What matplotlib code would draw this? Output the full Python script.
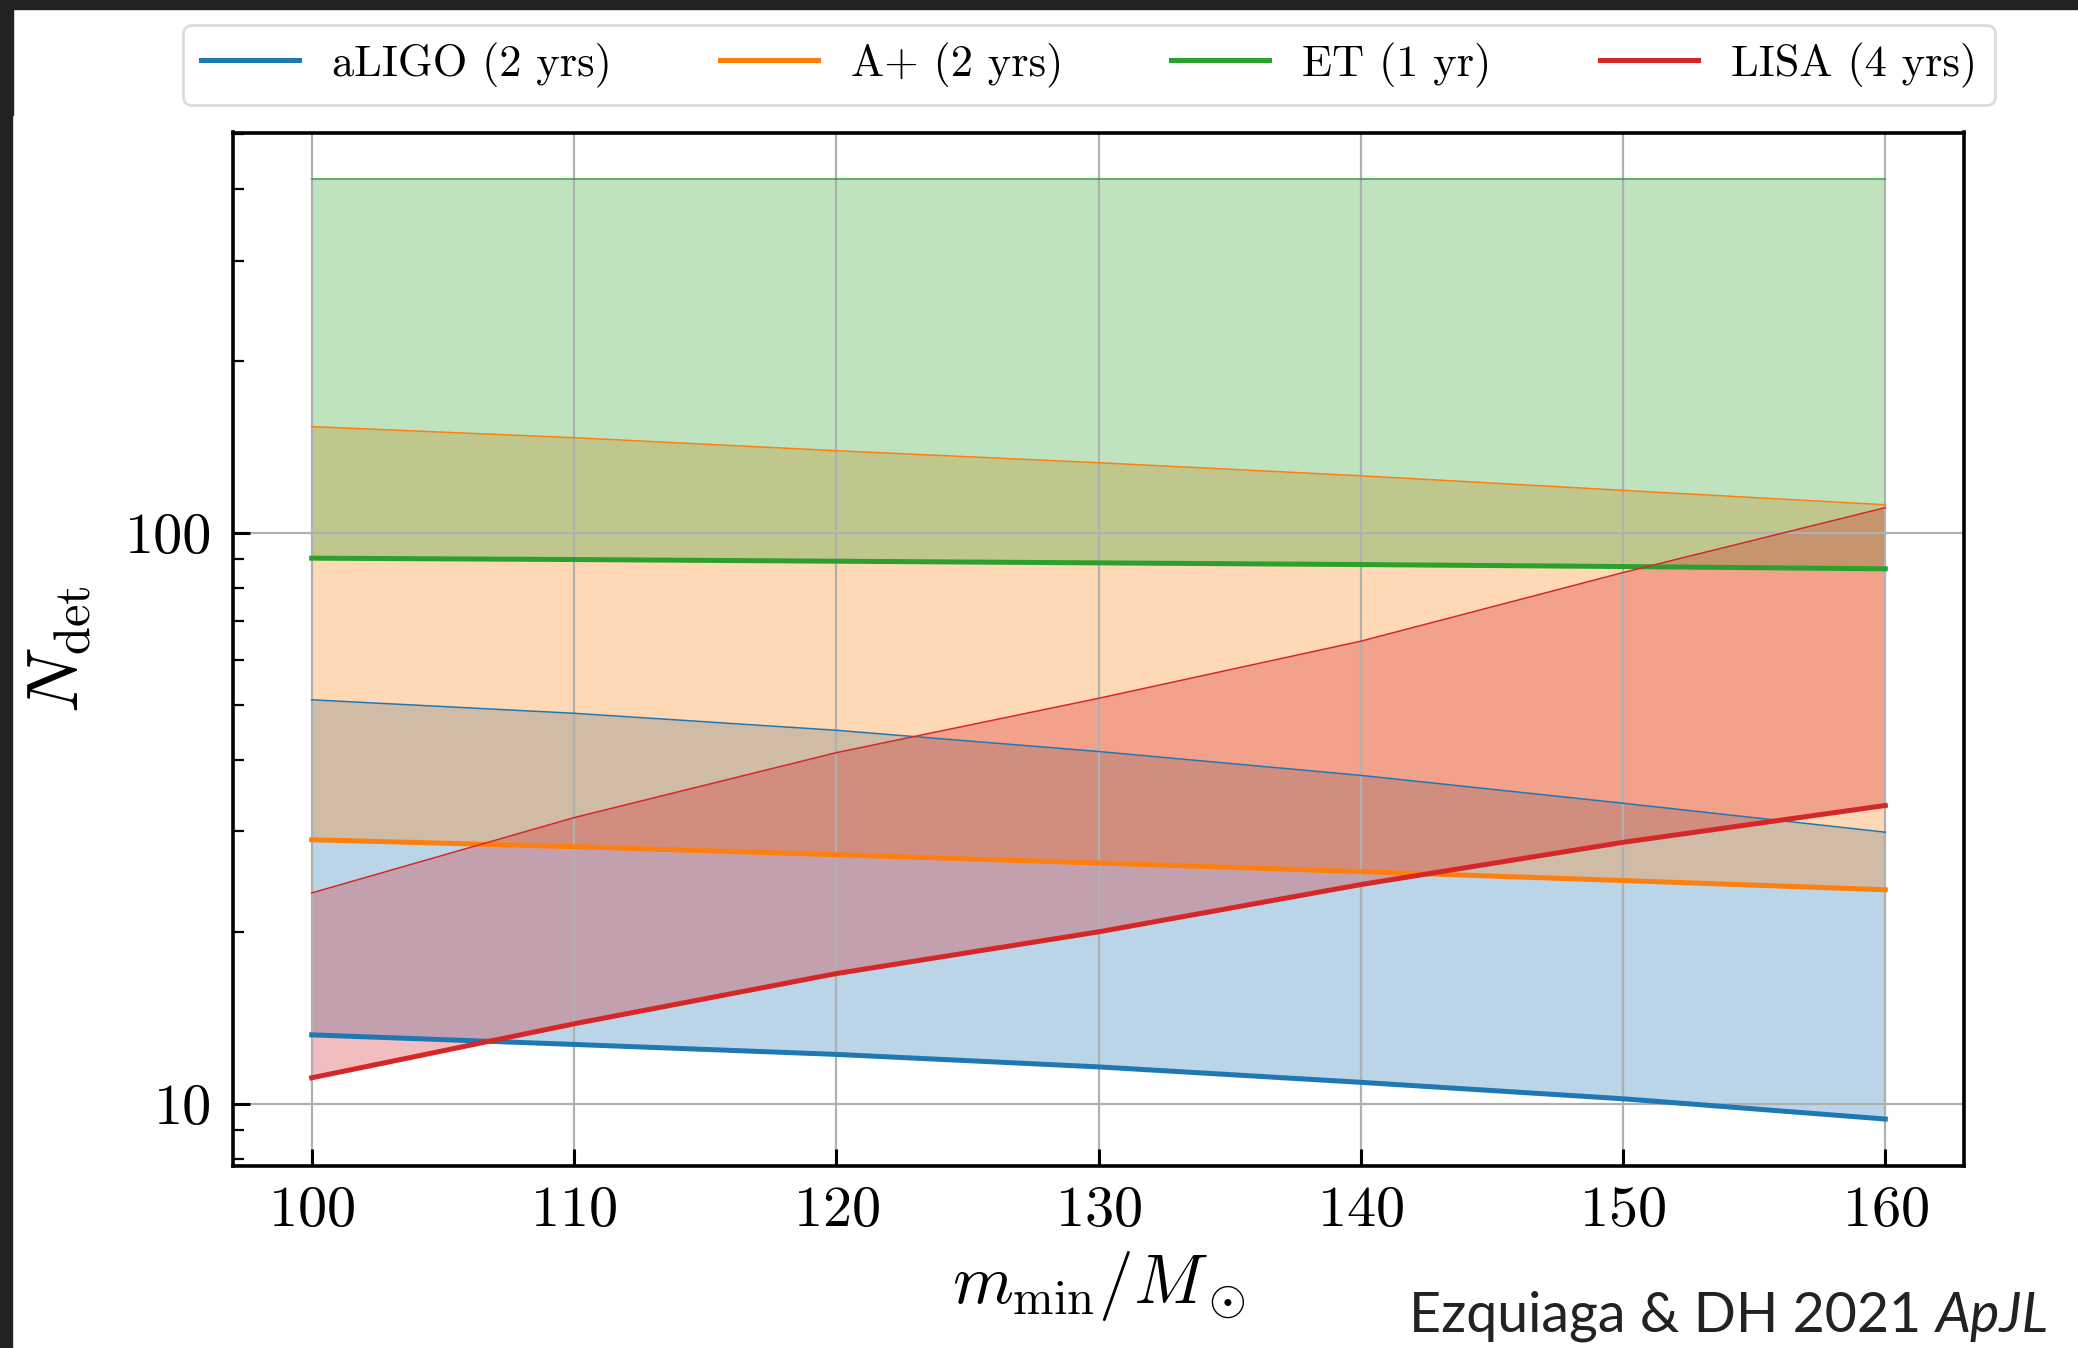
import matplotlib
matplotlib.use("Agg")
import matplotlib.pyplot as plt
from matplotlib.patches import Rectangle
from matplotlib.ticker import FuncFormatter, NullFormatter, LogLocator

# ---- data ----
m_min = [100, 110, 120, 130, 140, 150, 160]
aligo_low = [13.2, 12.7, 12.2, 11.6, 10.9, 10.2, 9.4]
aligo_high = [51.0, 48.3, 45.1, 41.4, 37.6, 33.6, 29.9]
aplus_low = [29.0, 28.2, 27.3, 26.4, 25.5, 24.6, 23.7]
aplus_high = [153.5, 146.8, 139.3, 132.7, 125.9, 118.7, 112.0]
et_low = [90.3, 89.8, 89.2, 88.6, 88.0, 87.3, 86.5]
et_high = [416, 416, 416, 416, 416, 416, 416]
lisa_low = [11.1, 13.8, 16.9, 20.0, 24.2, 28.7, 33.3]
lisa_high = [23.4, 31.7, 41.2, 51.3, 64.6, 85.2, 110.7]

labels = ["aLIGO (2 yrs)", "A+ (2 yrs)", "ET (1 yr)", "LISA (4 yrs)"]
colors = ["#1f77b4", "#ff7f0e", "#2ca02c", "#d62728"]
lows = [aligo_low, aplus_low, et_low, lisa_low]
highs = [aligo_high, aplus_high, et_high, lisa_high]
x_ticks = [100, 110, 120, 130, 140, 150, 160]

plt.rcParams["font.family"] = "serif"
plt.rcParams["font.serif"] = ["cmr10"]
plt.rcParams["mathtext.fontset"] = "cm"
plt.rcParams["axes.unicode_minus"] = False
plt.rcParams["axes.formatter.use_mathtext"] = True

W, H = 2078, 1348
fig = plt.figure(figsize=(W / 100, H / 100), dpi=100)
ax = fig.add_axes([233 / W, 1 - 1166 / H, (1964 - 233) / W, (1166 - 132.5) / H])

for lab, c, lo, hi in zip(labels, colors, lows, highs):
    ax.fill_between(m_min, lo, hi, color=c, alpha=0.3, linewidth=0)
    ax.plot(m_min, lo, color=c, lw=3.6, label=lab)
    ax.plot(m_min, hi, color=c, lw=1.1)

ax.set_yscale("log")
ax.set_xticks(x_ticks)
ax.yaxis.set_major_locator(LogLocator(base=10))
ax.yaxis.set_major_formatter(FuncFormatter(lambda v, p: f"{v:.0f}"))
ax.yaxis.set_minor_formatter(NullFormatter())

ax.grid(True, which="major", color="#b0b0b0", lw=1.6)
ax.tick_params(axis="both", which="both", direction="in", top=False, right=False)
ax.tick_params(axis="both", which="major", length=12, width=2.2, labelsize=42)
ax.tick_params(axis="x", which="major", pad=14)
ax.tick_params(axis="y", which="major", pad=15)
ax.tick_params(axis="y", which="minor", length=8, width=1.6)
for s in ax.spines.values():
    s.set_linewidth(2.6)

ax.set_xlabel(r"$m_{\rm min}/M_\odot$", fontsize=50)
ax.set_ylabel(r"$N_{\rm det}$", fontsize=52)
ax.xaxis.set_label_coords(0.5, -0.080)
ax.yaxis.set_label_coords(-0.081, 0.5)

leg = ax.legend(loc="center", ncol=4, mode="expand",
                bbox_to_anchor=(183 / W, 1 - 65 / H, 1812 / W, 0),
                bbox_transform=fig.transFigure, fontsize=32,
                handlelength=2.2, handletextpad=0.75, borderaxespad=0,
                borderpad=0.4, fancybox=True, framealpha=1)
leg.get_frame().set_edgecolor("#dcdcdc")
leg.get_frame().set_linewidth(2.0)

# screenshot frame
fig.patches.append(Rectangle((0, 1 - 9 / H), 1, 9 / H, transform=fig.transFigure,
                             color="#222222", zorder=10))
fig.patches.append(Rectangle((0, 0), 12 / W, 1, transform=fig.transFigure,
                             color="#222222", zorder=10))
fig.patches.append(Rectangle((0, 1 - 115 / H), 13 / W, 115 / H, transform=fig.transFigure,
                             color="#222222", zorder=10))

t1 = fig.text(1409 / W, 1 - 1332 / H, "Ezquiaga & DH 2021 ", family="Lato",
              fontsize=40, color="#222222", ha="left", va="baseline")
ax.annotate("ApJL", xy=(1, 0), xycoords=t1, family="Lato", style="italic",
            fontsize=40, color="#222222", ha="left", va="bottom",
            annotation_clip=False)

fig.savefig("out.png", dpi=100)
